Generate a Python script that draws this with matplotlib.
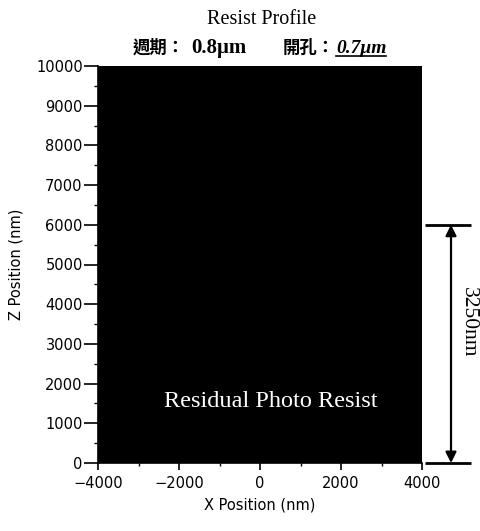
import matplotlib
matplotlib.use("Agg")
import matplotlib.pyplot as plt
from matplotlib.ticker import MultipleLocator
from matplotlib.transforms import blended_transform_factory

# Resist profile: simulated resist surface height across the cell
profile_x = [-4000, 4000]
profile_z = [10000, 10000]

x_ticks = [-4000, -2000, 0, 2000, 4000]
z_ticks = [0, 1000, 2000, 3000, 4000, 5000, 6000, 7000, 8000, 9000, 10000]

# Dimension marker drawn beside the plot
dim_bottom = 0
dim_top = 6000
dim_label = "3250nm"

title = "Resist Profile"
sub_left_cjk = "週期："
sub_left_val = "0.8μm"
sub_right_cjk = "開孔："
sub_right_val = "0.7μm"

plt.rcParams["font.family"] = "DejaVu Sans"

W, H = 481, 531
fig = plt.figure(figsize=(W / 100, H / 100), dpi=100)
ax = fig.add_axes([98 / W, 1 - 463 / H, (422 - 98) / W, (463 - 66) / H])

ax.fill_between(profile_x, 0, profile_z, color="black", linewidth=0)
ax.set_xlim(-4000, 4000)
ax.set_ylim(0, 10000)
ax.set_xticks(x_ticks)
ax.set_yticks(z_ticks)
ax.xaxis.set_minor_locator(MultipleLocator(1000))
ax.yaxis.set_minor_locator(MultipleLocator(500))
ax.set_xticklabels([f"{v:d}".replace("-", "\u2212") for v in x_ticks])
ax.tick_params(axis="y", which="major", direction="out", length=10, width=1.2,
               labelsize=10.5, pad=1)
ax.tick_params(axis="y", which="minor", direction="out", length=3, width=1.0)
ax.tick_params(axis="x", which="major", direction="out", length=5, width=1.2,
               labelsize=10.5, pad=4)
ax.tick_params(axis="x", which="minor", direction="out", length=2.5, width=1.0)
for side in ("top", "right"):
    ax.spines[side].set_visible(False)
for side in ("left", "bottom"):
    ax.spines[side].set_linewidth(1.2)

ax.set_xlabel("X Position (nm)", fontsize=10.5, labelpad=5)
ax.set_ylabel("Z Position (nm)", fontsize=10.5, labelpad=9)

ax.text(0.534, 0.154, "Residual Photo Resist", transform=ax.transAxes,
        color="white", ha="center", va="center",
        family="Liberation Serif", fontsize=17.5)

# Dimension arrow on the right-hand side
tr = blended_transform_factory(fig.transFigure, ax.transData)
x_arrow = 451 / W
for yv in (dim_bottom, dim_top):
    ax.plot([425 / W, 471 / W], [yv, yv], transform=tr, color="black",
            lw=2.0, clip_on=False, solid_capstyle="butt")
ax.annotate("", xy=(x_arrow, dim_top), xytext=(x_arrow, dim_bottom),
            xycoords=tr, textcoords=tr,
            arrowprops=dict(arrowstyle="<|-|>", color="black", lw=1.6,
                            mutation_scale=16, shrinkA=0, shrinkB=0))
ax.text(468 / W, 1 - 322 / H, dim_label, transform=fig.transFigure,
        rotation=-90, ha="center", va="center",
        family="Liberation Serif", fontsize=15.5)

# Titles
fig.text(262 / W, 1 - 20 / H, title, ha="center", va="center",
         family="Liberation Serif", fontsize=14.5)

cjk = ["Noto Sans CJK TC", "DejaVu Sans"]
fig.canvas.draw()
r = fig.canvas.get_renderer()
yline = 1 - 48 / H


def put(x_px, s, **kw):
    t = fig.text(x_px / W, yline, s, ha="left", va="center", **kw)
    return t.get_window_extent(r)


b = put(133, sub_left_cjk, family=cjk, fontsize=12.5, weight="bold")
put(b.x1 + 6, sub_left_val, family="Liberation Serif", fontsize=15,
    weight="bold")
b = put(283, sub_right_cjk, family=cjk, fontsize=12.5, weight="bold",
        style="italic")
b3 = put(b.x1 + 1, sub_right_val, family="Liberation Serif", fontsize=14,
         weight="bold", style="italic")
fig.add_artist(plt.Line2D([b3.x0 / W, b3.x1 / W],
                          [(b3.y0 + 1) / H, (b3.y0 + 1) / H],
                          transform=fig.transFigure, color="black", lw=1.2))

fig.savefig("out.png", dpi=100)
